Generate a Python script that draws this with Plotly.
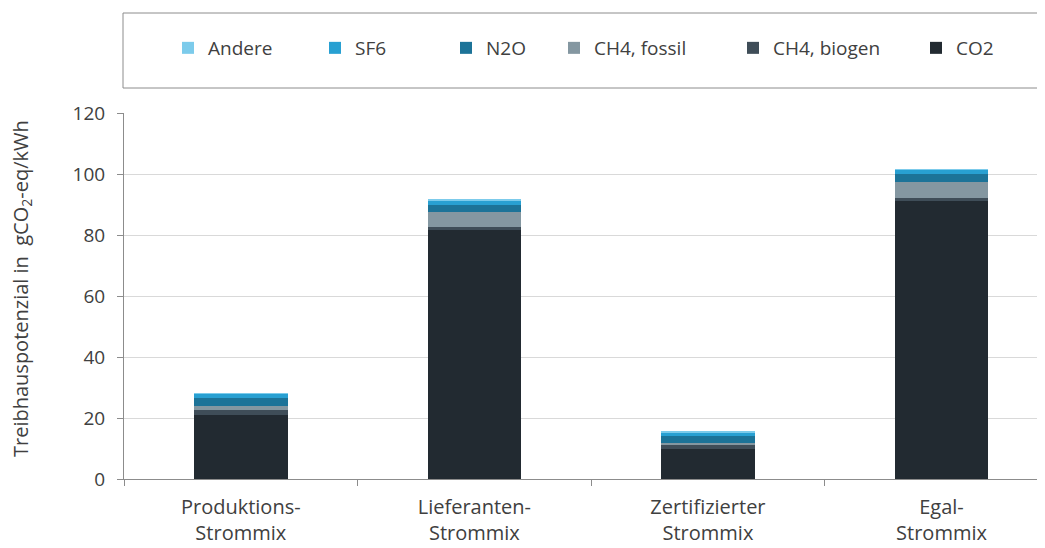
import plotly.graph_objects as go

categories = ["Produktions-<br>Strommix", "Lieferanten-<br>Strommix",
              "Zertifizierter<br>Strommix", "Egal-<br>Strommix"]
co2 = [21.1, 81.7, 9.9, 91.2]
ch4_biogen = [1.5, 0.8, 1.3, 0.9]
ch4_fossil = [1.3, 5.0, 0.7, 5.4]
n2o = [2.8, 2.3, 2.2, 2.4]
sf6 = [1.3, 1.6, 1.3, 1.6]
andere = [0.1, 0.1, 0.1, 0.1]
y_title = "Treibhauspotenzial in  gCO<sub>2</sub>-eq/kWh"

series = [
    ("CO2", co2, "#222a31", 935),
    ("CH4, biogen", ch4_biogen, "#3f4d58", 752),
    ("CH4, fossil", ch4_fossil, "#8497a1", 573),
    ("N2O", n2o, "#1c7398", 465),
    ("SF6", sf6, "#28a0d2", 334),
    ("Andere", andere, "#7ccbeb", 187),
]

OFF = 8  # page body margin
FW, FH = 1045 - OFF, 548 - OFF
L, R, T, B = 124 - OFF, 1045 - OFF, 113 - OFF, 479 - OFF
W = R - L
H = B - T

fig = go.Figure()
layout_legends = {}
for i, (name, vals, col, sqx) in enumerate(series):
    lname = "legend" if i == 0 else f"legend{i+1}"
    fig.add_trace(go.Bar(x=categories, y=vals, name=name, marker_color=col,
                         marker_line_width=0, width=0.40, legend=lname,
                         showlegend=True))
    layout_legends[lname] = dict(
        xref="container", yref="container",
        x=(sqx - OFF - 19) / FW, xanchor="left",
        y=1 - (48 - OFF) / FH, yanchor="middle",
        bgcolor="rgba(0,0,0,0)", borderwidth=0,
        font=dict(family="Open Sans", size=19, color="#404040"),
        itemwidth=30, tracegroupgap=0,
    )

fig.update_layout(
    barmode="stack",
    showlegend=True,
    width=FW, height=FH,
    margin=dict(l=L, r=0, t=T, b=FH - B, autoexpand=False),
    plot_bgcolor="white", paper_bgcolor="white",
    font=dict(family="Open Sans", color="#404040"),
    **layout_legends,
)
fig.update_xaxes(
    range=[-0.5, 3.443], showgrid=False, automargin=False,
    showline=True, linecolor="#8c8c8c", linewidth=1,
    ticks="outside", tickson="boundaries", ticklen=6, tickcolor="#8c8c8c",
    ticklabelstandoff=10,
    tickfont=dict(family="Open Sans", size=20, color="#404040"),
)
fig.update_yaxes(
    range=[0, 120], dtick=20, automargin=False,
    showgrid=True, gridcolor="#d9d9d9", gridwidth=1,
    showline=True, linecolor="#8c8c8c", linewidth=1,
    ticks="outside", ticklen=6, tickcolor="#8c8c8c",
    ticklabelstandoff=8,
    tickfont=dict(family="Open Sans", size=19, color="#404040"),
    zeroline=False,
)
fig.add_annotation(
    text=y_title, textangle=-90, showarrow=False,
    xref="paper", yref="paper",
    x=(21 - OFF - L) / W, xanchor="center",
    y=(B - (289 - OFF)) / H, yanchor="middle",
    font=dict(family="Open Sans", size=20, color="#404040"),
)
fig.add_shape(type="rect", xref="paper", yref="paper",
              x0=(123 - OFF - L) / W, x1=1.05,
              y0=(B - (88 - OFF)) / H, y1=(B - (13 - OFF)) / H,
              line=dict(color="#8c8c8c", width=1), fillcolor="rgba(0,0,0,0)")

fig.write_html("out.html")
